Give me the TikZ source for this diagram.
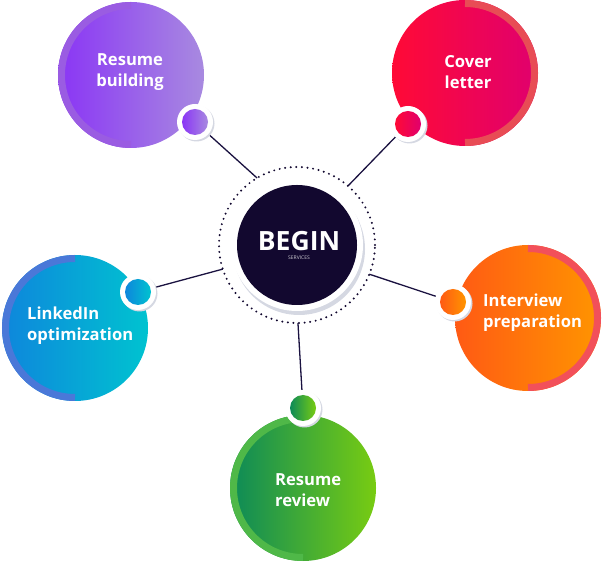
\documentclass[tikz,border=0pt]{standalone}
\usepackage{fontspec}
\setmainfont{Open Sans}
\usetikzlibrary{calc}
\definecolor{navy}{HTML}{12082F}
\definecolor{linec}{HTML}{1A1240}
\definecolor{pA}{HTML}{8A35F5}\definecolor{pB}{HTML}{A88AE0}\definecolor{pBand}{HTML}{9A5CE2}
\definecolor{rA}{HTML}{FF0A36}\definecolor{rB}{HTML}{E0006E}\definecolor{rBand}{HTML}{E84C55}
\definecolor{bA}{HTML}{0E86DC}\definecolor{bB}{HTML}{00C3D0}\definecolor{bBand}{HTML}{4A78D8}
\definecolor{oA}{HTML}{FF5A14}\definecolor{oB}{HTML}{FF9500}\definecolor{oBand}{HTML}{F2505A}
\definecolor{gA}{HTML}{0C8A58}\definecolor{gB}{HTML}{78CC12}\definecolor{gBand}{HTML}{4FB848}
\definecolor{shadowc}{HTML}{D5D8E2}
\tikzset{
  sat/.style={circle, inner sep=0pt, minimum size=146pt},
  dotnode/.style={circle, inner sep=0pt, minimum size=36pt, fill=white},
  lbl/.style={text=white, font=\bfseries\fontsize{16.6}{21}\selectfont, inner sep=0pt},
  conn/.style={draw=linec, line width=1.3pt},
  band/.style={line width=7pt}
}
\begin{document}
\begin{tikzpicture}[x=1pt,y=1pt]
\useasboundingbox (0,0) rectangle (604,564);
% centre
\coordinate (core) at (297,319);
\coordinate (e1) at ($(core)+(120.8:78)$);
\coordinate (e2) at ($(core)+(49.2:78)$);
\coordinate (e3) at ($(core)+(198:78)$);
\coordinate (e4) at ($(core)+(338:78)$);
\coordinate (e5) at ($(core)+(270.7:78)$);
% dot nodes (positions)
\node[dotnode] (d1) at (195,442) {};
\node[dotnode] (d2) at (408,440) {};
\node[dotnode] (d3) at (138,272) {};
\node[dotnode] (d4) at (453,262) {};
\node[dotnode] (d5) at (303,156) {};
% connectors
\draw[conn] (d1) -- (e1);
\draw[conn] (d2) -- (e2);
\draw[conn] (d3) -- (e3);
\draw[conn] (d4) -- (e4);
\draw[conn] (d5) -- (e5);
% satellites
\node[sat, left color=pA, right color=pB] (s1) at (131,489) {};
\draw[band, pBand] (s1.center) ++(90:69.5) arc[start angle=90, end angle=270, radius=69.5];
\node[sat, left color=rA, right color=rB] (s2) at (465,491) {};
\draw[band, rBand] (s2.center) ++(90:69.5) arc[start angle=90, end angle=-90, radius=69.5];
\node[sat, left color=bA, right color=bB] (s3) at (75,236) {};
\draw[band, bBand] (s3.center) ++(90:69.5) arc[start angle=90, end angle=270, radius=69.5];
\node[sat, left color=oA, right color=oB] (s4) at (528,246) {};
\draw[band, oBand] (s4.center) ++(90:69.5) arc[start angle=90, end angle=-90, radius=69.5];
\node[sat, left color=gA, right color=gB] (s5) at (303,76) {};
\draw[band, gBand] (s5.center) ++(90:69.5) arc[start angle=90, end angle=270, radius=69.5];
% labels
\node[lbl, align=center] (t1) at (130,492) {Resume\\building};
\node[lbl, align=center] (t2) at (468,492) {Cover\\letter};
\node[lbl, align=left, anchor=west] (t3) at (27,238) {LinkedIn\\optimization};
\node[lbl, align=left, anchor=west] (t4) at (483,251) {Interview\\preparation};
\node[lbl, align=left, anchor=west] (t5) at (275,74) {Resume\\review};
% small dots
\foreach \n/\ca/\cb in {d1/pA/pB, d2/rA/rB, d3/bA/bB, d4/oA/oB, d5/gA/gB}{
  \fill[shadowc] ($(\n.center)+(1.5,-1.5)$) circle (18);
  \fill[white] (\n.center) circle (18);
  \shade[left color=\ca, right color=\cb] (\n.center) circle (13);
}
% centre circle
\fill[shadowc] ($(core)+(2,-4)$) circle (66);
\fill[white] (core) circle (66);
\node[circle, fill=navy, minimum size=120pt, inner sep=0pt] (c) at (core) {};
\draw[navy, line width=2.2pt, line cap=round, dash pattern=on 0pt off 5.6pt] (core) circle (78);
\node[text=white, font=\bfseries\fontsize{26.5}{26.5}\selectfont, inner sep=0pt] (begin) at ($(core)+(2,4)$) {BEGIN};
\node[text=white!80!navy, font=\fontsize{5}{5}\selectfont, inner sep=0pt] (serv) at ($(core)+(2,-13)$) {SERVICES};
\end{tikzpicture}
\end{document}
